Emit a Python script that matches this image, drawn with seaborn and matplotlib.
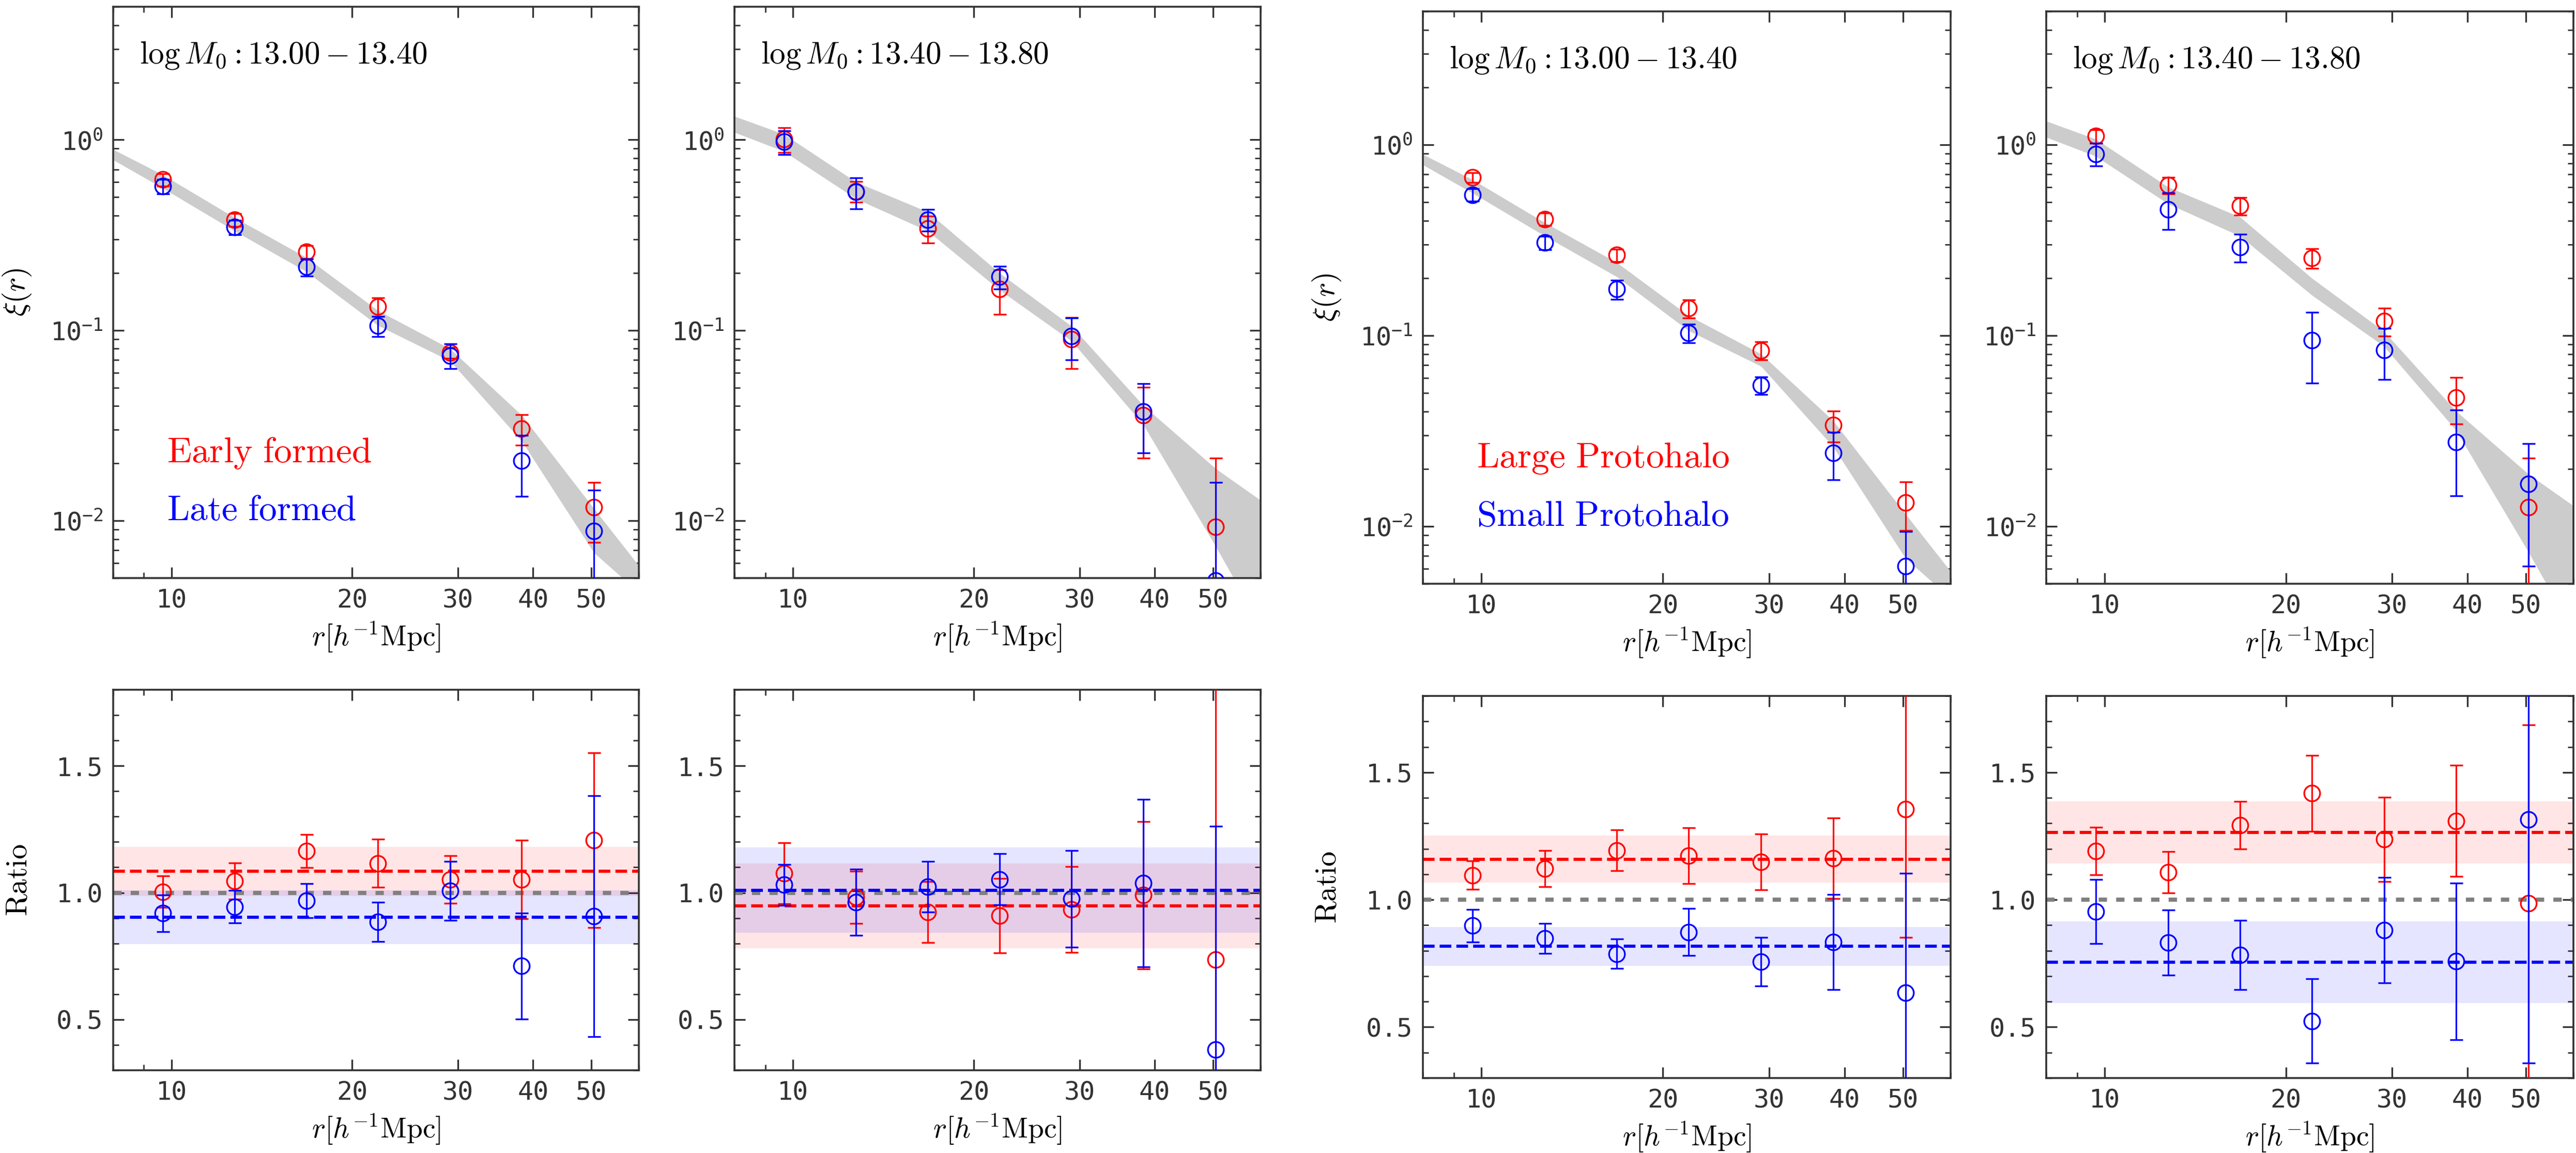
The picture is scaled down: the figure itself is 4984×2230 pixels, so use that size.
import numpy as np
import matplotlib
matplotlib.use("Agg")
import matplotlib.pyplot as plt
import matplotlib.ticker as mticker
import seaborn as sns

# ---------------- data ----------------
r = [9.67, 12.75, 16.78, 22.07, 29.1, 38.3, 50.5]
band_r = [8.0, 9.67, 12.75, 16.78, 22.07, 29.1, 38.3, 50.5, 60.0]

# all-halo band (xi) for the two mass bins
band1_hi = [0.89, 0.656, 0.39, 0.241, 0.127, 0.080, 0.0358, 0.0116, 0.0058]
band1_lo = [0.785, 0.558, 0.332, 0.203, 0.106, 0.069, 0.0262, 0.0068, 0.0042]
band2_hi = [1.33, 1.07, 0.60, 0.418, 0.20, 0.105, 0.0402, 0.0188, 0.0128]
band2_lo = [1.095, 0.87, 0.49, 0.332, 0.163, 0.0877, 0.0319, 0.00735, 0.0028]

mass_labels = [r'$\log M_0 : 13.00 - 13.40$', r'$\log M_0 : 13.40 - 13.80$',
               r'$\log M_0 : 13.00 - 13.40$', r'$\log M_0 : 13.40 - 13.80$']
red_names = [r'$\rm Early\ formed$', r'$\rm Large\ Protohalo$']
blue_names = [r'$\rm Late\ formed$', r'$\rm Small\ Protohalo$']

# xi(r) points
xi1_red = [0.618, 0.381, 0.258, 0.133, 0.0764, 0.0305, 0.0118]
xi1_red_err = [0.045, 0.03, 0.02, 0.015, 0.005, 0.0056, 0.0041]
xi1_blue = [0.571, 0.348, 0.215, 0.1055, 0.0737, 0.0207, 0.00884]
xi1_blue_err = [0.05, 0.03, 0.022, 0.013, 0.011, 0.0073, 0.0056]

xi2_red = [1.009, 0.538, 0.343, 0.1645, 0.09, 0.0358, 0.0093]
xi2_red_err = [0.15, 0.067, 0.055, 0.043, 0.027, 0.0145, 0.012]
xi2_blue = [0.977, 0.533, 0.381, 0.191, 0.0931, 0.0375, 0.00486]
xi2_blue_err = [0.14, 0.10, 0.05, 0.026, 0.023, 0.0148, 0.011]

xi3_red = [0.675, 0.408, 0.264, 0.1387, 0.0835, 0.0339, 0.0133]
xi3_red_err = [0.04, 0.03, 0.02, 0.015, 0.009, 0.0063, 0.0038]
xi3_blue = [0.547, 0.307, 0.175, 0.103, 0.0548, 0.0243, 0.0062]
xi3_blue_err = [0.04, 0.025, 0.02, 0.0115, 0.0057, 0.0068, 0.0032]

xi4_red = [1.111, 0.613, 0.479, 0.255, 0.1194, 0.0473, 0.01256]
xi4_red_err = [0.09, 0.06, 0.05, 0.03, 0.02, 0.013, 0.0102]
xi4_blue = [0.896, 0.459, 0.291, 0.0942, 0.0839, 0.0276, 0.0167]
xi4_blue_err = [0.12, 0.10, 0.048, 0.038, 0.025, 0.0132, 0.0105]

# ratio points
q1_red = [1.004, 1.046, 1.164, 1.116, 1.052, 1.052, 1.207]
q1_red_err = [0.063, 0.072, 0.066, 0.094, 0.093, 0.155, 0.344]
q1_blue = [0.919, 0.945, 0.969, 0.885, 1.007, 0.711, 0.908]
q1_blue_err = [0.072, 0.064, 0.067, 0.077, 0.116, 0.209, 0.475]

q2_red = [1.077, 0.982, 0.923, 0.909, 0.934, 0.990, 0.737]
q2_red_err = [0.12, 0.103, 0.12, 0.147, 0.17, 0.29, 1.1]
q2_blue = [1.031, 0.962, 1.024, 1.053, 0.976, 1.038, 0.381]
q2_blue_err = [0.08, 0.13, 0.10, 0.10, 0.19, 0.33, 0.88]

q3_red = [1.096, 1.122, 1.194, 1.173, 1.149, 1.163, 1.356]
q3_red_err = [0.056, 0.071, 0.08, 0.11, 0.11, 0.158, 0.503]
q3_blue = [0.898, 0.848, 0.788, 0.873, 0.757, 0.834, 0.634]
q3_blue_err = [0.064, 0.059, 0.058, 0.092, 0.096, 0.186, 0.47]

q4_red = [1.191, 1.108, 1.293, 1.418, 1.237, 1.309, 0.987]
q4_red_err = [0.093, 0.082, 0.093, 0.149, 0.166, 0.218, 0.7]
q4_blue = [0.954, 0.832, 0.784, 0.524, 0.880, 0.758, 1.314]
q4_blue_err = [0.126, 0.128, 0.136, 0.165, 0.207, 0.308, 0.955]

# mean ratio and its spread
mean_red = [1.084, 0.948, 1.159, 1.264]
spread_red = [0.097, 0.168, 0.092, 0.122]
mean_blue = [0.903, 1.010, 0.817, 0.755]
spread_blue = [0.106, 0.168, 0.076, 0.160]

x_ticks = [10, 20, 30, 40, 50]
ratio_ticks = [0.5, 1.0, 1.5]

# ---------------- style ----------------
sns.set_theme(style="ticks")
plt.rcParams.update({
    "mathtext.fontset": "cm",
    "axes.edgecolor": "0.2",
    "axes.linewidth": 1.3,
    "xtick.color": "0.2",
    "ytick.color": "0.2",
    "xtick.labelcolor": "0.2",
    "ytick.labelcolor": "0.2",
    "xtick.direction": "in",
    "ytick.direction": "in",
    "xtick.top": True,
    "ytick.right": True,
    "xtick.major.size": 7.5,
    "ytick.major.size": 7.5,
    "xtick.minor.size": 4,
    "ytick.minor.size": 4,
    "xtick.major.width": 1.2,
    "ytick.major.width": 1.2,
    "xtick.minor.width": 1.0,
    "ytick.minor.width": 1.0,
    "xtick.major.pad": 7,
    "ytick.major.pad": 7,
    "xtick.labelsize": 18,
    "ytick.labelsize": 18,
    "axes.labelcolor": "black",
})
plt.rcParams["font.family"] = ["DejaVu Sans Mono"]

W, H = 4984, 2230
fig = plt.figure(figsize=(W / 200, H / 200), dpi=200)

# pixel boxes (left, right, top, bottom)
top_boxes = [(219, 1236, 13, 1118), (1421, 2439, 13, 1118),
             (2753, 3774, 22, 1129), (3959, 4979, 22, 1129)]
bot_boxes = [(219, 1236, 1334, 2070), (1421, 2439, 1334, 2070),
             (2753, 3774, 1346, 2085), (3959, 4979, 1346, 2085)]


def add_ax(box):
    l, rr, t, b = box
    return fig.add_axes([l / W, 1 - b / H, (rr - l) / W, (b - t) / H])


xi_red = [xi1_red, xi2_red, xi3_red, xi4_red]
xi_red_err = [xi1_red_err, xi2_red_err, xi3_red_err, xi4_red_err]
xi_blue = [xi1_blue, xi2_blue, xi3_blue, xi4_blue]
xi_blue_err = [xi1_blue_err, xi2_blue_err, xi3_blue_err, xi4_blue_err]
q_red = [q1_red, q2_red, q3_red, q4_red]
q_red_err = [q1_red_err, q2_red_err, q3_red_err, q4_red_err]
q_blue = [q1_blue, q2_blue, q3_blue, q4_blue]
q_blue_err = [q1_blue_err, q2_blue_err, q3_blue_err, q4_blue_err]
bands = [(band1_lo, band1_hi), (band2_lo, band2_hi),
         (band1_lo, band1_hi), (band2_lo, band2_hi)]

eb_kw = dict(fmt="o", mfc="none", ms=11, mew=1.2, elinewidth=1.15,
             capsize=4.5, capthick=1.15)

xlabel = r'$r[h^{-1}{\rm Mpc}]$'


def style_x(ax):
    ax.set_xscale("log")
    ax.set_xlim(8, 60)
    ax.set_xticks(x_ticks, [str(t) for t in x_ticks])
    ax.xaxis.set_minor_locator(mticker.LogLocator(base=10, subs=np.arange(2, 10)))
    ax.xaxis.set_minor_formatter(mticker.NullFormatter())
    ax.set_xlabel(xlabel, fontsize=20, labelpad=5)


for i in range(4):
    # ---- top: correlation function ----
    ax = add_ax(top_boxes[i])
    lo, hi = bands[i]
    ax.fill_between(band_r, lo, hi, color="0.8", lw=0, zorder=1)
    ax.errorbar(r, xi_red[i], yerr=xi_red_err[i], color="red", zorder=3, **eb_kw)
    ax.errorbar(r, xi_blue[i], yerr=xi_blue_err[i], color="blue", zorder=4, **eb_kw)
    ax.set_yscale("log")
    ax.set_ylim(0.005, 5)
    ax.yaxis.set_major_locator(mticker.LogLocator(base=10, numticks=10))
    ax.yaxis.set_minor_locator(mticker.LogLocator(base=10, subs=np.arange(2, 10), numticks=20))
    ax.yaxis.set_minor_formatter(mticker.NullFormatter())
    style_x(ax)
    ax.text(0.05, 0.915, mass_labels[i], transform=ax.transAxes,
            fontsize=22, ha="left", va="center", color="black")
    if i in (0, 2):
        ax.set_ylabel(r'$\xi(r)$', fontsize=21)
        ax.yaxis.set_label_coords(-0.152, 0.5)
        k = i // 2
        ax.text(0.102, 0.219, red_names[k], transform=ax.transAxes,
                fontsize=25, color="red", ha="left", va="center")
        ax.text(0.102, 0.119, blue_names[k], transform=ax.transAxes,
                fontsize=25, color="blue", ha="left", va="center")

    # ---- bottom: ratio ----
    bx = add_ax(bot_boxes[i])
    bx.axhspan(mean_red[i] - spread_red[i], mean_red[i] + spread_red[i],
               color="red", alpha=0.1, lw=0, zorder=1)
    bx.axhspan(mean_blue[i] - spread_blue[i], mean_blue[i] + spread_blue[i],
               color="blue", alpha=0.1, lw=0, zorder=1)
    bx.axhline(1.0, color="gray", ls=(0, (2.0, 2.2)), lw=2.9, zorder=2)
    bx.axhline(mean_red[i], color="red", ls="--", lw=2.2, zorder=2)
    bx.axhline(mean_blue[i], color="blue", ls="--", lw=2.2, zorder=2)
    bx.errorbar(r, q_red[i], yerr=q_red_err[i], color="red", zorder=3, **eb_kw)
    bx.errorbar(r, q_blue[i], yerr=q_blue_err[i], color="blue", zorder=4, **eb_kw)
    bx.set_ylim(0.3, 1.8)
    bx.set_yticks(ratio_ticks, [f"{t:.1f}" for t in ratio_ticks])
    bx.yaxis.set_minor_locator(mticker.MultipleLocator(0.1))
    style_x(bx)
    if i in (0, 2):
        bx.set_ylabel(r'$\rm Ratio$', fontsize=21)
        bx.yaxis.set_label_coords(-0.152, 0.5)

fig.savefig("out.png", dpi=200)
